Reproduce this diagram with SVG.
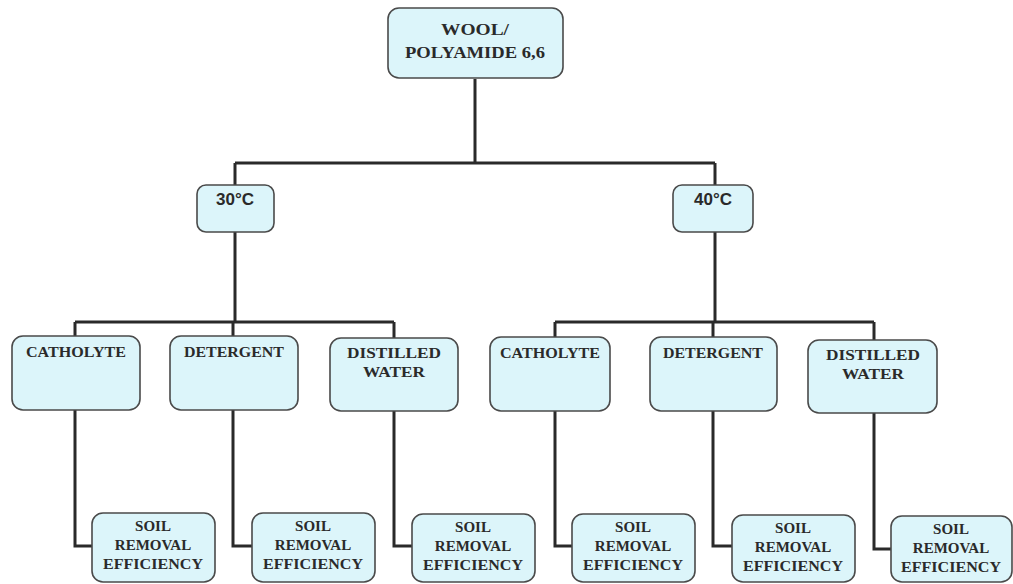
<svg xmlns="http://www.w3.org/2000/svg" width="1013" height="584" viewBox="0 0 1013 584">
<style>
.box{fill:#dcf5fa;stroke:#4a4a4a;stroke-width:1.6}
.t{font-family:"Liberation Serif","DejaVu Serif",serif;font-weight:bold;font-size:15px;fill:#2a2a2a;text-anchor:middle}
.r{font-size:16.5px}
.s{font-family:"Liberation Sans",Arial,sans-serif;font-weight:bold;font-size:17px;fill:#2a2a2a;text-anchor:middle}
.c{fill:none;stroke:#2a2a2a;stroke-width:3}
</style>
<rect width="1013" height="584" fill="#ffffff"/>
<g id="connectors">
<path class="c" d="M475 79V163M235 163H715M235 163V185M715 163V185"/>
<path class="c" d="M235 232V322M75 322H394M75 322V336M233 322V336M394 322V338"/>
<path class="c" d="M715 232V322M555 322H874M555 322V337M713 322V337M874 322V340"/>
<path class="c" d="M75 410V546H92M233 410V546H252M394 410V546H412M555 410V546H572M713 410V546H732M874 413V549H891"/>
</g>
<g id="n-root"><rect class="box" x="388" y="8" width="175" height="70" rx="11"/><text class="t r" x="475" y="35" textLength="68" lengthAdjust="spacingAndGlyphs">WOOL/</text><text class="t r" x="475" y="58" textLength="140" lengthAdjust="spacingAndGlyphs">POLYAMIDE 6,6</text></g>
<g id="n-30"><rect class="box" x="197" y="185" width="77" height="47" rx="9"/><text class="s" x="235" y="205">30°C</text></g>
<g id="n-40"><rect class="box" x="673" y="185" width="80" height="47" rx="9"/><text class="s" x="713" y="205">40°C</text></g>
<g id="n-cath1"><rect class="box" x="12" y="336" width="128" height="74" rx="11"/><text class="t" x="76" y="357" textLength="100" lengthAdjust="spacingAndGlyphs">CATHOLYTE</text></g>
<g id="n-det1"><rect class="box" x="170" y="336" width="128" height="74" rx="11"/><text class="t" x="234" y="357" textLength="100" lengthAdjust="spacingAndGlyphs">DETERGENT</text></g>
<g id="n-dw1"><rect class="box" x="330" y="338" width="128" height="73" rx="11"/><text class="t" x="394" y="358" textLength="94" lengthAdjust="spacingAndGlyphs">DISTILLED</text><text class="t" x="394" y="377" textLength="62" lengthAdjust="spacingAndGlyphs">WATER</text></g>
<g id="n-cath2"><rect class="box" x="490" y="337" width="120" height="74" rx="11"/><text class="t" x="550" y="358" textLength="100" lengthAdjust="spacingAndGlyphs">CATHOLYTE</text></g>
<g id="n-det2"><rect class="box" x="650" y="337" width="127" height="74" rx="11"/><text class="t" x="713" y="358" textLength="100" lengthAdjust="spacingAndGlyphs">DETERGENT</text></g>
<g id="n-dw2"><rect class="box" x="808" y="340" width="129" height="73" rx="11"/><text class="t" x="873" y="360" textLength="94" lengthAdjust="spacingAndGlyphs">DISTILLED</text><text class="t" x="873" y="379" textLength="62" lengthAdjust="spacingAndGlyphs">WATER</text></g>
<g id="n-s1"><rect class="box" x="92" y="513" width="123" height="69" rx="11"/><text class="t" x="153" y="531">SOIL</text><text class="t" x="153" y="550">REMOVAL</text><text class="t" x="153" y="569" textLength="100" lengthAdjust="spacingAndGlyphs">EFFICIENCY</text></g>
<g id="n-s2"><rect class="box" x="252" y="513" width="123" height="69" rx="11"/><text class="t" x="313" y="531">SOIL</text><text class="t" x="313" y="550">REMOVAL</text><text class="t" x="313" y="569" textLength="100" lengthAdjust="spacingAndGlyphs">EFFICIENCY</text></g>
<g id="n-s3"><rect class="box" x="412" y="514" width="123" height="68" rx="11"/><text class="t" x="473" y="532">SOIL</text><text class="t" x="473" y="551">REMOVAL</text><text class="t" x="473" y="570" textLength="100" lengthAdjust="spacingAndGlyphs">EFFICIENCY</text></g>
<g id="n-s4"><rect class="box" x="572" y="514" width="123" height="68" rx="11"/><text class="t" x="633" y="532">SOIL</text><text class="t" x="633" y="551">REMOVAL</text><text class="t" x="633" y="570" textLength="100" lengthAdjust="spacingAndGlyphs">EFFICIENCY</text></g>
<g id="n-s5"><rect class="box" x="732" y="515" width="123" height="67" rx="11"/><text class="t" x="793" y="533">SOIL</text><text class="t" x="793" y="552">REMOVAL</text><text class="t" x="793" y="571" textLength="100" lengthAdjust="spacingAndGlyphs">EFFICIENCY</text></g>
<g id="n-s6"><rect class="box" x="891" y="516" width="121" height="66" rx="11"/><text class="t" x="951" y="534">SOIL</text><text class="t" x="951" y="553">REMOVAL</text><text class="t" x="951" y="572" textLength="100" lengthAdjust="spacingAndGlyphs">EFFICIENCY</text></g>
</svg>
